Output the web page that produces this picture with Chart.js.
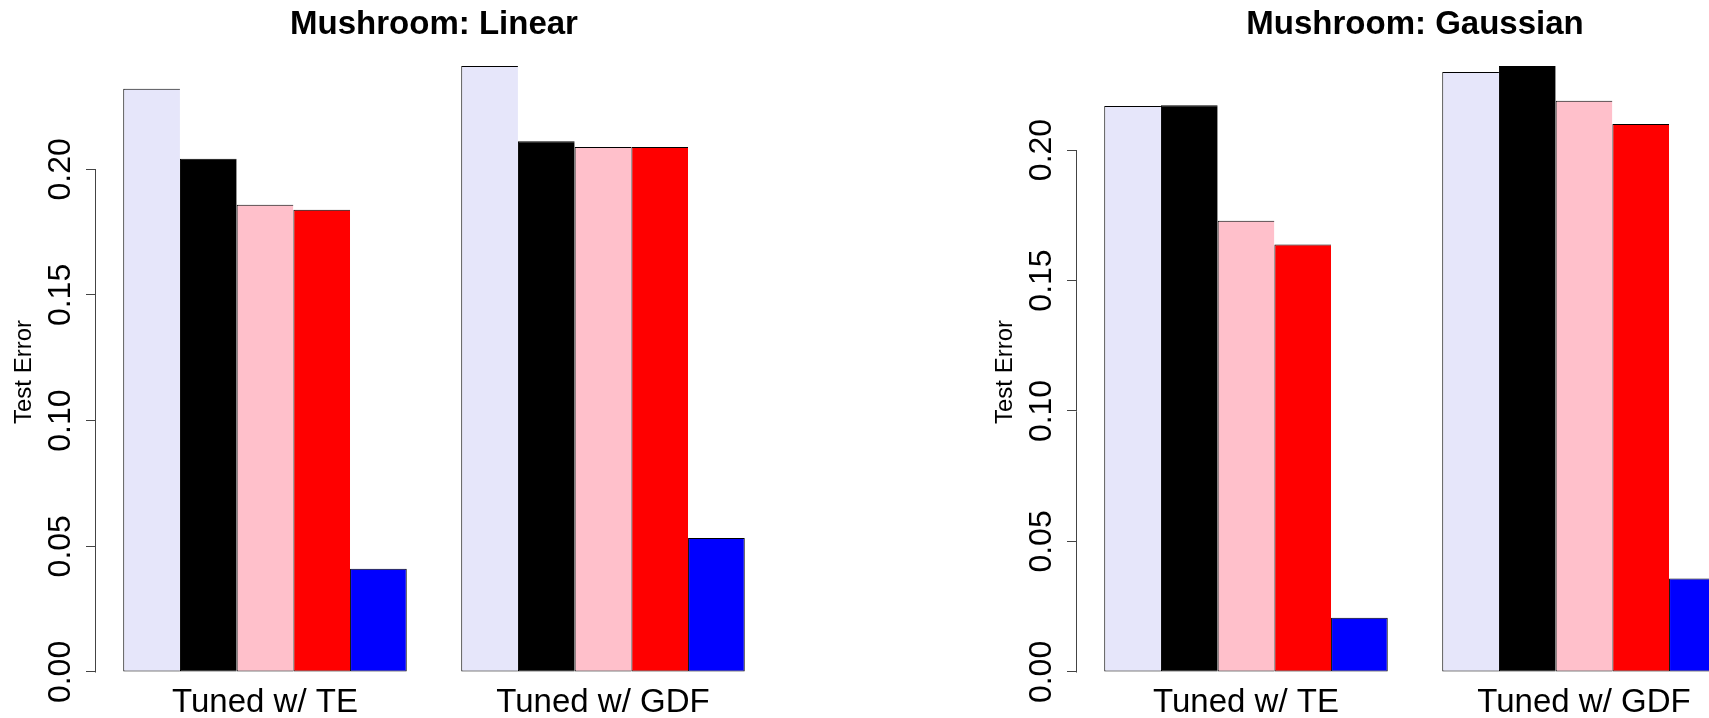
<!DOCTYPE html>
<html>
<head>
<meta charset="utf-8">
<script src="https://cdn.jsdelivr.net/npm/chart.js@4.4.0/dist/chart.umd.min.js"></script>
<style>
  html, body { margin: 0; padding: 0; background: #fff; overflow: hidden; }
  #wrap { position: relative; width: 1709px; height: 718px; overflow: hidden; }
  .box { position: absolute; top: 0; width: 772px; height: 718px; }
</style>
</head>
<body>
<div id="wrap">
  <div class="box" style="left:0"><canvas id="linear"></canvas></div>
  <div class="box" style="left:981px"><canvas id="gaussian"></canvas></div>
</div>
<script>
var groups = ['Tuned w/ TE', 'Tuned w/ GDF'];
var yTicks = [0, 0.05, 0.10, 0.15, 0.20];
var barColors = ['#E6E6FA', '#000000', '#FFC0CB', '#FF0000', '#0000FF'];

// test error of the five bars, left to right, in each group
var linearTE = [0.2320, 0.2042, 0.1859, 0.1839, 0.0411];
var linearGDF = [0.2411, 0.2112, 0.2089, 0.2089, 0.0533];
var gaussianTE = [0.2169, 0.2172, 0.1729, 0.1638, 0.0208];
var gaussianGDF = [0.2299, 0.2322, 0.2189, 0.2100, 0.0358];

var fontFamily = '"Liberation Sans", Arial, Helvetica, sans-serif';

// y axis line like R: only between first and last tick
var axisLine = {
    id: 'axisLine',
    afterDraw: function (chart) {
        var s = chart.scales.y;
        var ctx = chart.ctx;
        var x = Math.round(s.right) - 0.5;
        ctx.save();
        ctx.strokeStyle = '#444';
        ctx.lineWidth = 1;
        ctx.beginPath();
        ctx.moveTo(x, Math.round(s.getPixelForValue(yTicks[0])) + 0.5);
        ctx.lineTo(x, Math.round(s.getPixelForValue(yTicks[yTicks.length - 1])) + 0.5);
        ctx.stroke();
        ctx.restore();
    }
};

function makeChart(id, title, te, gdf) {
    var top = Math.max.apply(null, te.concat(gdf));
    var datasets = [];
    for (var i = 0; i < barColors.length; i++) {
        var last = i == barColors.length - 1;
        datasets.push({
            label: 'bar ' + (i + 1),
            data: [te[i], gdf[i]],
            backgroundColor: barColors[i],
            borderColor: '#000',
            borderWidth: { top: 1, left: 1, bottom: 1, right: last ? 1 : 0 },
            borderSkipped: false,
            barPercentage: 1,
            categoryPercentage: 0.8388
        });
    }

    return new Chart(document.getElementById(id), {
        type: 'bar',
        data: { labels: groups, datasets: datasets },
        options: {
            responsive: true,
            maintainAspectRatio: false,
            animation: false,
            events: [],
            layout: { padding: 0 },
            plugins: {
                legend: { display: false },
                tooltip: { enabled: false },
                title: {
                    display: true,
                    text: title,
                    fullSize: false,
                    color: '#000',
                    font: { family: fontFamily, size: 33, weight: 'bold' },
                    padding: { top: 5.4, bottom: 21 }
                }
            },
            scales: {
                x: {
                    grid: { display: false, drawTicks: false },
                    border: { display: false },
                    ticks: {
                        color: '#000',
                        font: { family: fontFamily, size: 33 },
                        padding: 5,
                        maxRotation: 0
                    },
                    afterFit: function (s) { s.height = 40; }
                },
                y: {
                    min: -0.01 * top,
                    max: top,
                    afterBuildTicks: function (s) {
                        s.ticks = yTicks.map(function (v) { return { value: v }; });
                    },
                    grid: {
                        drawOnChartArea: false,
                        drawTicks: true,
                        tickLength: 10,
                        color: '#444'
                    },
                    border: { display: false },
                    ticks: {
                        color: '#000',
                        font: { family: fontFamily, size: 32 },
                        minRotation: 90,
                        maxRotation: 90,
                        crossAlign: 'center',
                        padding: -6,
                        autoSkip: false,
                        callback: function (v) { return v.toFixed(2); }
                    },
                    title: {
                        display: true,
                        text: 'Test Error',
                        color: '#000',
                        font: { family: fontFamily, size: 24 },
                        padding: { top: 10, bottom: 0 }
                    },
                    afterFit: function (s) { s.width = 96; }
                }
            }
        },
        plugins: [axisLine]
    });
}

makeChart('linear', 'Mushroom: Linear', linearTE, linearGDF);
makeChart('gaussian', 'Mushroom: Gaussian', gaussianTE, gaussianGDF);
</script>
</body>
</html>
